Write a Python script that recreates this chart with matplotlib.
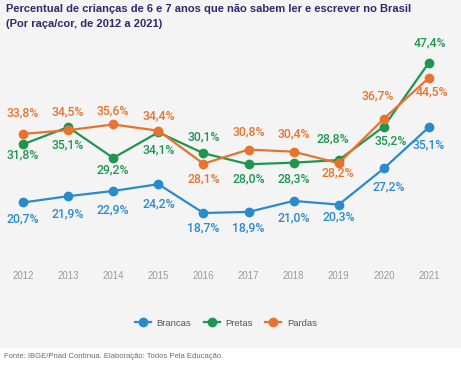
import matplotlib.pyplot as plt
from matplotlib.lines import Line2D
from matplotlib.patches import Rectangle

plt.rcParams['font.family'] = ['Liberation Sans', 'DejaVu Sans']

anos = [2012, 2013, 2014, 2015, 2016, 2017, 2018, 2019, 2020, 2021]
brancas = [20.7, 21.9, 22.9, 24.2, 18.7, 18.9, 21.0, 20.3, 27.2, 35.1]
pretas = [31.8, 35.1, 29.2, 34.1, 30.1, 28.0, 28.3, 28.8, 35.2, 47.4]
pardas = [33.8, 34.5, 35.6, 34.4, 28.1, 30.8, 30.4, 28.2, 36.7, 44.5]

# label offsets (pixels) per point
off_brancas = [(0, -16), (0, -18), (0, -19), (0, -20), (0, -15), (0, -16), (0, -17), (0, -12), (5, -18), (0, -18)]
off_pretas = [(0, -11), (0, -18), (0, -12), (0, -18), (0, 16), (0, -15), (0, -16), (-6, 21), (7, -14), (1, 20)]
off_pardas = [(0, 21), (0, 18), (0, 14), (0, 15), (0, -15), (0, 18), (0, 18), (-1, -10), (-6, 23), (3, -14)]

c_bra = '#2a8bcc'
c_pre = '#1f9650'
c_par = '#e8732f'
bg = '#f4f4f4'

fig = plt.figure(figsize=(4.61, 3.70), dpi=100, facecolor=bg)
fig.patches.append(Rectangle((0, 0), 1, 22 / 370, transform=fig.transFigure,
                             facecolor='white', edgecolor='none', zorder=0))

ax = fig.add_axes([0, (370 - 265) / 370, 1, 220 / 370])
ax.set_facecolor(bg)
for s in ax.spines.values():
    s.set_visible(False)
ax.set_xlim(2011.49, 2021.71)
ax.set_ylim(8.77, 50.76)
ax.set_yticks([])
ax.set_xticks(anos)
ax.set_xticklabels([str(a) for a in anos], fontsize=6.9, color='#9a9a9a')
ax.tick_params(axis='x', length=0, pad=4.5)

series = [(brancas, c_bra, off_brancas), (pretas, c_pre, off_pretas), (pardas, c_par, off_pardas)]
for vals, col, offs in series:
    ax.plot(anos, vals, color=col, lw=1.6, marker='o', ms=6, zorder=3)
    for x, v, (dx, dy) in zip(anos, vals, offs):
        ax.annotate(f'{v:.1f}%'.replace('.', ','), (x, v), xytext=(dx, dy),
                    textcoords='offset pixels', ha='center', va='center',
                    fontsize=8.8, color=col, family=['Roboto', 'DejaVu Sans'],
                    fontweight='medium', zorder=4)

handles = [Line2D([], [], color=c, lw=1.6, marker='o', ms=6) for c in (c_bra, c_pre, c_par)]
fig.legend(handles, ['Brancas', 'Pretas', 'Pardas'], loc='center', bbox_to_anchor=(0.49, (370 - 323) / 370),
           ncol=3, frameon=False, fontsize=6.8, labelcolor='#555555', handlelength=1.7,
           columnspacing=1.3, handletextpad=0.6)

fig.text(6 / 461, 1 - 9 / 370, 'Percentual de crianças de 6 e 7 anos que não sabem ler e escrever no Brasil',
         fontsize=8.0, fontweight='bold', color='#2d2a6c', va='center', ha='left')
fig.text(6 / 461, 1 - 24 / 370, '(Por raça/cor, de 2012 a 2021)',
         fontsize=8.0, fontweight='bold', color='#2d2a6c', va='center', ha='left')
fig.text(4 / 461, 1 - 356 / 370, 'Fonte: IBGE/Pnad Contínua. Elaboração: Todos Pela Educação.',
         fontsize=5.5, color='#6a6a6a', va='center', ha='left')

fig.savefig('out.png', dpi=100, facecolor=bg)
